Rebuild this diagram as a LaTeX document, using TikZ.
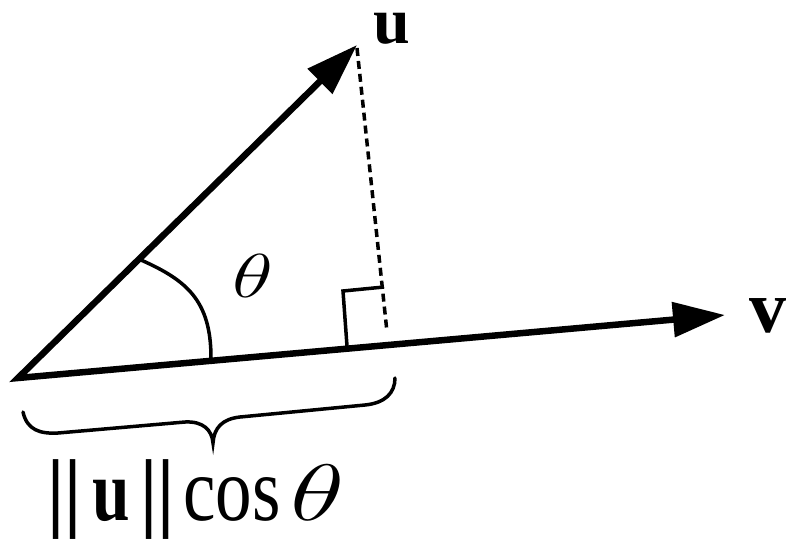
\documentclass[tikz,border=0pt]{standalone}
\usepackage{fix-cm}
\usepackage{fontspec}
\setmainfont{Liberation Serif}
\usetikzlibrary{arrows.meta}
\newcommand{\botlab}[1]{\scalebox{1}[1.3]{\fontsize{67.5}{80}\selectfont #1}}
\begin{document}
\begin{tikzpicture}[x=1pt,y=-1pt,
  vecline/.style={line width=6.5pt, line join=miter, {Triangle[length=52pt,width=34pt]}-{Triangle[length=52pt,width=34pt]}},
  thinline/.style={line width=3.5pt},
  dashline/.style={line width=3.5pt, dash pattern=on 8pt off 5pt},
  lab/.style={inner sep=0pt, anchor=base}]
\useasboundingbox (0,0) rectangle (793,544);
\coordinate (O) at (18,378);
\coordinate (U) at (357,45);
\coordinate (V) at (725,315);
\coordinate (Us) at (357,48);
\coordinate (F) at (387,332);
\coordinate (R1) at (347,346);
\coordinate (R2) at (343,291);
\coordinate (R3) at (384,287);
\coordinate (A1) at (141,260);
\coordinate (A2) at (211,358);
% vectors
\draw[vecline] (U) -- (O) -- (V);
% projection
\draw[dashline] (Us) -- (F);
\draw[thinline] (R1) -- (R2) -- (R3);
% angle arc
\draw[thinline] (A1) .. controls (186,280) and (211,300) .. (A2);
% brace
\draw[thinline, line cap=round] (23,412) .. controls (27,430) and (40,434) .. (58,433)
  -- (185,422) .. controls (203,421) and (212,430) .. (213,443)
  .. controls (214,428) and (222,419) .. (240,417)
  -- (365,405) .. controls (385,403) and (395,393) .. (395,378);
% labels
\node[lab, text height=32pt] (ulab) at (392,43) {\fontsize{66}{70}\selectfont\bfseries u};
\node[lab] (vlab) at (768,332) {\fontsize{74}{80}\selectfont\bfseries v};
\node[lab] (th) at (253,297) {\scalebox{1.36}[1]{\fontsize{62}{70}\selectfont$\theta$}};
\node[lab] (b1) at (65,520) {\scalebox{1.15}[1]{\botlab{\bfseries ||}}};
\node[lab] (bu) at (111,520) {\botlab{\bfseries u}};
\node[lab] (b2) at (158,520) {\scalebox{1.15}[1]{\botlab{\bfseries ||}}};
\node[lab] (bcos) at (232,520) {\scalebox{1}[1.25]{\fontsize{73}{90}\selectfont cos}};
\node[lab] (bth) at (318,520) {\scalebox{1.4}[1]{\fontsize{80}{90}\selectfont$\theta$}};
\end{tikzpicture}
\end{document}
